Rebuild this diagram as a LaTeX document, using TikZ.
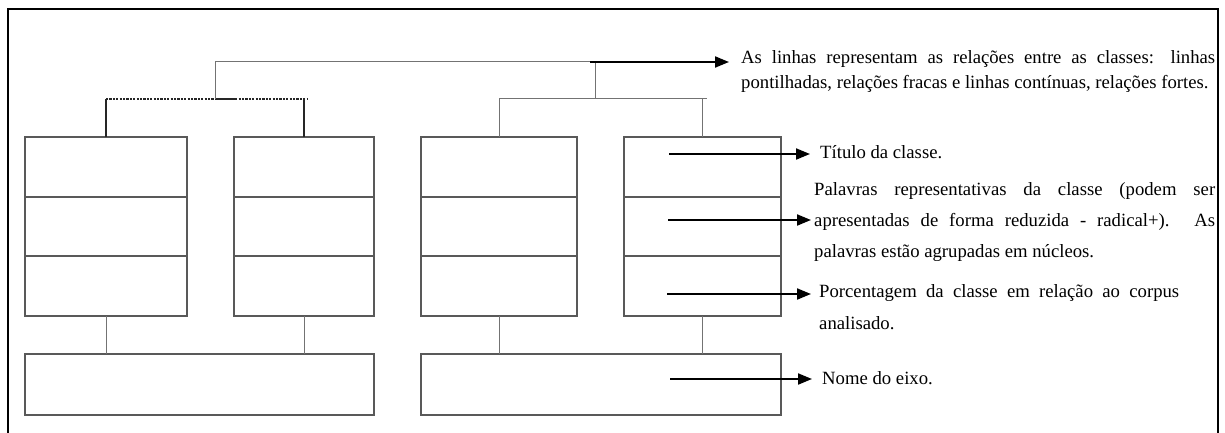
\documentclass[tikz,border=0pt]{standalone}
\usepackage{fontspec}
\setmainfont{Liberation Serif}
\usetikzlibrary{arrows.meta}
\definecolor{boxgray}{gray}{0.35}
\definecolor{linegray}{gray}{0.45}
\newcommand\mynohyph{\tolerance=10000\hyphenpenalty=10000\emergencystretch=0pt}
\begin{document}
\begin{tikzpicture}[x=1pt,y=-1pt,
  cell/.style={draw=boxgray, line width=1.2pt, inner sep=0pt, outer sep=0pt, anchor=north west},
  conn/.style={draw=linegray, line width=1pt},
  strong/.style={draw=black!85, line width=1.6pt},
  weak/.style={draw=black!85, line width=1.6pt, dash pattern=on 2.2pt off 1.2pt},
  pointer/.style={draw=black, line width=2pt, -{Triangle[length=14pt,width=11pt]}},
  txt/.style={inner sep=0pt, anchor=base west, font=\fontsize{18.7}{31}\selectfont, align=justify},
]
\useasboundingbox (0,0) rectangle (1225,433);
% outer frame (open at the bottom)
\draw[line width=2.2pt] (8,433) -- (8,9) -- (1218,9) -- (1218,433);

% class columns
\foreach \n/\x/\w in {1/25/162, 2/234/140, 3/421/156, 4/624/157}{
  \node[cell, minimum width=\w pt, minimum height=60pt] (c\n t) at (\x,137) {};
  \node[cell, minimum width=\w pt, minimum height=59pt] (c\n w) at (\x,197) {};
  \node[cell, minimum width=\w pt, minimum height=60pt] (c\n p) at (\x,256) {};
}
% axis boxes
\node[cell, minimum width=349pt, minimum height=61pt] (a1) at (25,354) {};
\node[cell, minimum width=360pt, minimum height=61pt] (a2) at (421,354) {};

% dendrogram
\coordinate (jL) at (215,99);
\coordinate (jTop) at (595,62);
\coordinate (jR) at (595,99);
\draw[weak] (c1t.north |- jL) -- ([xshift=4pt]c2t.north |- jL);
\draw[strong] (jL) -- ++(20,0);
\draw[strong] (c1t.north) -- (c1t.north |- jL);
\draw[strong] (c2t.north) -- (c2t.north |- jL);
\draw[conn] (jL) -- (jL |- jTop) -- (jTop) -- (jR);
\draw[conn] (c3t.north) -- (c3t.north |- jR) -- ([xshift=4pt]c4t.north |- jR);
\draw[conn] (c4t.north) -- (c4t.north |- jR);

% links to axes
\draw[conn] (c1p.south) -- (c1p.south |- a1.north);
\draw[conn] (c2p.south) -- (c2p.south |- a1.north);
\draw[conn] (c3p.south) -- (c3p.south |- a2.north);
\draw[conn] (c4p.south) -- (c4p.south |- a2.north);

% explanatory texts
\node[txt, text width=474pt, font=\fontsize{18.7}{25}\selectfont] (tLines) at (741,64)
  {\mynohyph As linhas representam as relações entre as classes: linhas\linebreak pontilhadas, relações fracas e linhas contínuas, relações fortes.};
\node[txt] (tTitle) at (820,158) {Título da classe.};
\node[txt, text width=401pt] (tWords) at (814,195)
  {\mynohyph Palavras representativas da classe (podem ser\linebreak apresentadas de forma reduzida - radical+). As\linebreak palavras estão agrupadas em núcleos.};
\node[txt, text width=360pt, font=\fontsize{18.7}{32}\selectfont] (tPerc) at (819,297)
  {\mynohyph Porcentagem da classe em relação ao corpus\linebreak analisado.};
\node[txt] (tAxis) at (822,384) {Nome do eixo.};

% pointer arrows
\coordinate (pTs) at (590,62);  \coordinate (pTe) at (729,62);
\coordinate (p1s) at (669,154); \coordinate (p1e) at (810,154);
\coordinate (p2s) at (668,220); \coordinate (p2e) at (811,220);
\coordinate (p3s) at (667,294); \coordinate (p3e) at (811,294);
\coordinate (p4s) at (670,379); \coordinate (p4e) at (812,379);
\draw[pointer] (pTs) -- (pTe);
\draw[pointer] (p1s) -- (p1e);
\draw[pointer] (p2s) -- (p2e);
\draw[pointer] (p3s) -- (p3e);
\draw[pointer] (p4s) -- (p4e);
\end{tikzpicture}
\end{document}
